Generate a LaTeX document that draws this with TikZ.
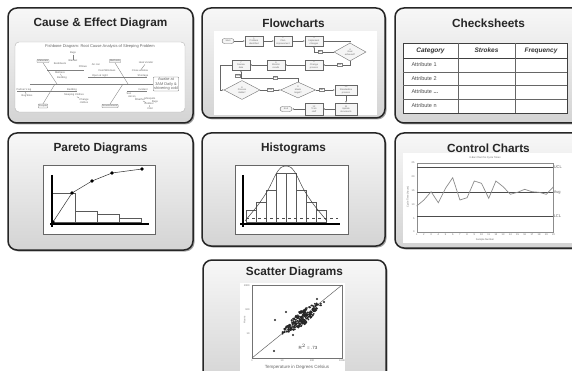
\documentclass[tikz,border=0pt]{standalone}
\usepackage{fontspec}
\setmainfont{Liberation Sans}
\usetikzlibrary{shapes.geometric,arrows.meta}

\tikzset{
  panel/.style={draw=black!85, line width=1.5pt, rounded corners=9pt, top color=black!3, bottom color=black!17},
  ptitle/.style={font=\fontsize{11.8}{13}\selectfont\bfseries, text=black!85},
  inset/.style={draw=black!60, fill=white, line width=.6pt},
  fbtxt/.style={font=\fontsize{2.6}{3}\selectfont, text=black!60, inner sep=.3pt, align=center},
  fbcat/.style={fbtxt, draw=black!45, fill=black!5, rounded corners=.8pt, inner sep=.8pt, line width=.3pt},
  fbline/.style={black!50, line width=.35pt},
  fc/.style={draw=black!60, fill=black!4, line width=.35pt, minimum width=18pt, minimum height=10.5pt, inner sep=.3pt, font=\fontsize{2.3}{2.6}\selectfont, text=black!60, align=center},
  fcd/.style={fc, diamond, aspect=1.8, minimum width=32pt, minimum height=18pt, inner sep=0pt},
  fct/.style={fc, rounded corners=2.5pt, minimum width=12pt, minimum height=5pt},
  fcl/.style={draw=black!50, fill=white, font=\fontsize{2.6}{3}\selectfont, text=black!70, inner sep=.5pt, line width=.3pt},
  fca/.style={black!60, line width=.4pt, -{Latex[length=1.6pt,width=1.3pt]}},
  csh/.style={font=\fontsize{6.5}{7}\selectfont\bfseries\itshape, text=black!80},
  csr/.style={font=\fontsize{5.5}{6}\selectfont, text=black!70, anchor=west},
  bar/.style={draw=black!65, line width=.45pt},
  axis/.style={black, line width=1.4pt},
  tk/.style={font=\fontsize{2.5}{3}\selectfont, text=black!60, inner sep=.3pt},
  cl/.style={font=\fontsize{4}{4.5}\selectfont, text=black!60, inner sep=.3pt, anchor=west},
  dot/.style={fill=black, radius=1.9}
}

\begin{document}
\begin{tikzpicture}[x=1pt,y=-1pt]
\useasboundingbox (0,0) rectangle (572,371);
\clip (0,0) rectangle (572,371);
\fill[white] (0,0) rectangle (572,371);

\foreach \xa/\ya/\xb/\yb/\ty/\ttl [count=\k] in {
  8/8/193/123/23/{Cause \& Effect Diagram},
  202/8/385/118/23/Flowcharts,
  395/8/582/123/23/Checksheets,
  8/133/193/250/148/{Pareto Diagrams},
  202/133/385/246/148/Histograms,
  395/133/582/248/148/{Control Charts},
  203/260/386/385/272/{Scatter Diagrams}}
{
  \fill[black!35, rounded corners=9pt] (\xa+1.5,\ya+1.5) rectangle (\xb+1.5,\yb+1.5);
  \draw[panel] (\xa,\ya) rectangle (\xb,\yb);
  \node[ptitle] (title\k) at ({(\xa+\xb)/2},\ty) {\ttl};
}

% cause and effect
\draw[black!30, fill=white, rounded corners=4pt, line width=.4pt] (15,42) rectangle (185,112);
\node[fbtxt, font=\fontsize{4}{4.5}\selectfont] (fbhead) at (100,46.5) {Fishbone Diagram: Root Cause Analysis of Sleeping Problem};
\node[fbcat] (materials) at (43,61) {Materials};
\node[fbcat] (methods) at (115,61) {Methods};
\node[fbcat] (people) at (43,106) {People};
\node[fbcat] (environment) at (110,106) {Environment};
\node[fbcat, font=\fontsize{3.9}{4.4}\selectfont, fill=white, draw=black!55] (effect) at (166,84) {Awake at\\3AM Daily \&\\shivering cold};
\coordinate (spine) at (30,84);
\draw[fbline, line width=.5pt] (spine) -- (effect.west);
\draw[fbline] (materials.south) -- (57,84);
\draw[fbline] (methods.south) -- (128,84);
\draw[fbline] (people.north) -- (55,84);
\draw[fbline] (environment.north) -- (123,84);
\draw[fbline] (47,70) -- (84,70);
\draw[fbline] (17,91) -- (77,91);
\draw[fbline] (88,77) -- (147,77);
\draw[fbline] (127,91) -- (147,91);
\node[fbtxt] (m1) at (73,53) {Bugs};
\node[fbtxt] (m2) at (73,61) {Blanket};
\node[fbtxt] (m3) at (60,63.5) {Bedsheets};
\node[fbtxt] (m4) at (83,66.5) {Pillows};
\node[fbtxt] (m5) at (60,72.5) {Mattress};
\node[fbtxt] (m6) at (62,77.5) {Bedding};
\draw[fbline] (m1) -- (m2);
\draw[fbline] (m5) -- (m6);
\node[fbtxt] (p1) at (24,89.5) {Partner's leg};
\node[fbtxt] (p2) at (27,96) {Bug bites};
\draw[fbline] (p1) -- (p2);
\node[fbtxt] (p3) at (72,89.5) {Bedding};
\node[fbtxt] (p4) at (74,95) {Sleeping Clothes};
\node[fbtxt] (p5) at (84,101) {Change\\clothes};
\draw[fbline] (p4) -- (p5);
\node[fbtxt] (e1) at (96,65) {Air con};
\node[fbtxt] (e2) at (107,70.5) {Door/Windows};
\node[fbtxt] (e3) at (100,75.5) {Open at night};
\node[fbtxt] (e4) at (146,63) {Heat Vendor};
\node[fbtxt] (e5) at (140,71) {Close window};
\node[fbtxt] (e6) at (143,75.5) {Shortage};
\draw[fbline] (e4) -- (e5);
\node[fbtxt] (v1) at (143,89.5) {Incident};
\node[fbtxt] (v2) at (129,93.5) {Sun};
\node[fbtxt] (v3) at (132,97) {Aircon};
\node[fbtxt] (v4) at (140,99.5) {Weather};
\node[fbtxt] (v5) at (150,98.5) {Mosquito};
\node[fbtxt] (v6) at (155,102) {Bugs};
\node[fbtxt] (v7) at (149,104) {Outdoor};
\node[fbtxt] (v8) at (150,108.5) {Cold};
\draw[fbline] (v3) -- (v4) -- (v7) -- (v8);
\draw[fbline] (v5) -- (v6);

% flowchart
\fill[white] (214,31) rectangle (377,115);
\node[fct] (start) at (228,41) {Start};
\node[fc] (b1) at (254,41) {1\\Problem\\identified};
\node[fc] (b2) at (283,41) {2\\Plan\\improvement};
\node[fc] (b3) at (314,41) {3\\Implement\\changes};
\node[fcd] (d1) at (350,52) {4\\Goal\\achieved?};
\node[fc] (b4) at (314,65) {5\\Change\\process};
\node[fc] (b5) at (276,65) {6\\Monitor\\results};
\node[fc] (b6) at (241,65) {7\\Review\\data};
\node[fcd, minimum width=36pt, minimum height=19pt] (d2) at (242,90) {8\\Process\\stable?};
\node[fcd, minimum width=35pt, minimum height=16pt] (d3) at (298,90) {9\\Meets\\target?};
\node[fc, minimum width=22pt] (b7) at (346,90) {10\\Standardize\\process};
\node[fc, minimum width=22pt, minimum height=12pt] (b8) at (346,109) {11\\Update\\documents};
\node[fc, minimum height=12pt] (b9) at (314,109) {12\\Train\\staff};
\node[fct] (end) at (286,109) {End};
\draw[fca] (start) -- (b1);
\draw[fca] (b1) -- (b2);
\draw[fca] (b2) -- (b3);
\draw[fca] (b3.east) -| (d1.north);
\draw[fca] (d1.west) -| node[fcl, pos=.35] {No} (b3.south);
\draw[fca] (d1.south) |- node[fcl, pos=.7] {Yes} (b4.east);
\draw[fca] (b4) -- (b5);
\draw[fca] (b5) -- (b6);
\draw[fca] (b6.west) -- ++(-12,0) |- (d2.west);
\draw[fca] (d3.north) |- node[fcl, pos=.7] {No} (241,78) -- (b6.south);
\node[fcl] (yes1) at (238,75.5) {Yes};
\draw[fca] (d2.east) -- node[fcl] {Yes} (d3.west);
\draw[fca] (d3.east) -- node[fcl, pos=.3] {Yes} (b7.west);
\draw[fca] (b7) -- (b8);
\draw[fca] (b8) -- (b9);
\draw[fca] (b9) -- (end);

% checksheet
\fill[white] (403,43) rectangle (567,113);
\draw[black!75, line width=.6pt] (403,43) rectangle (567,113);
\foreach \yy in {58,72,85,99} \draw[black!60, line width=.5pt] (403,\yy) -- (567,\yy);
\draw[black!75, line width=.6pt] (403,58) -- (567,58);
\foreach \xx in {458,515} \draw[black!60, line width=.5pt] (\xx,43) -- (\xx,113);
\node[csh] (cat) at (430.5,50.5) {Category};
\node[csh] (str) at (486.5,50.5) {Strokes};
\node[csh] (frq) at (541,50.5) {Frequency};
\node[csr] (a1) at (408,65) {Attribute 1};
\node[csr] (a2) at (408,78.5) {Attribute 2};
\node[csr] (a3) at (408,92) {Attribute \textbf{...}};
\node[csr] (a4) at (408,106) {Attribute n};

% pareto
\draw[inset] (43,165) rectangle (155,234);
\draw[bar] (52,193) rectangle (75,222);
\draw[bar] (75,211) rectangle (97,222);
\draw[bar] (97,214) rectangle (119,222);
\draw[bar] (119,218) rectangle (141,222);
\draw[black!80, line width=.5pt] (53,222) -- (72,193) -- (92,181) -- (112,173) -- (142,169);
\foreach \px/\py in {53/222,72/193,92/181,112/173,142/169} \fill[dot] (\px,\py) circle;
\draw[axis] (52,175) -- (52,227);
\draw[axis] (50,224) -- (149,224);

% histogram
\draw[inset] (235,165) rectangle (348,234);
\foreach \hx/\hy in {246/210,256/202,266/190,276/173,286/173,296/190,306/202,316/210}
  \draw[bar] (\hx,\hy) rectangle (\hx+10,222);
\draw[black!70, line width=.45pt, dashed] (246,218) -- (338,218);
\draw[black!75, line width=.5pt] plot[smooth] coordinates {(245,221) (258,205) (268,190) (276,174) (281,167.5) (286,166) (291,167.5) (296,174) (304,190) (314,205) (327,221)};
\draw[axis] (243,175) -- (243,227);
\draw[axis] (240,224) -- (340,224);

% control chart
\fill[white] (403,153) rectangle (582,243);
\draw[black!45, line width=.4pt] (417,163) rectangle (553,232);
\node[tk] (cctitle) at (485,158) {X-Bar Chart for Cycle Times};
\draw[black!70, line width=.9pt] (417,167.3) -- (553,167.3) node[cl] (ucl) {UCL};
\draw[black!70, line width=.9pt] (417,192.3) -- (553,192.3) node[cl] (avg) {Avg};
\draw[black!70, line width=.9pt] (417,216) -- (553,216) node[cl] (lcl) {LCL};
\draw[black!45, line width=.7pt] plot coordinates {(416.7,206) (423.9,200) (431.1,191.7) (438.3,202.7) (445.5,188.3) (452.7,177.7) (459.9,200) (467.1,197.7) (474.3,181) (481.5,183.3) (488.7,198.3) (495.9,181) (503.1,186.7) (510.3,194.3) (517.5,192.3) (524.7,189.3) (531.9,191.7) (539.1,192.3) (546.3,194.3) (553.5,186.7)};
\foreach \v [count=\j from 0] in {25,20,15,10,5,0}
  \node[tk, anchor=east] (cy\j) at (415,{163+13.8*\j}) {\v};
\foreach \j in {1,...,20}
  \node[tk] (cx\j) at ({409.5+7.2*\j},235) {\j};
\node[tk] (ccx) at (485,240) {Sample Number};
\node[tk, rotate=90] (ccy) at (408,197) {Cycle Time (hours)};

% scatter
\fill[white] (240,283) rectangle (345,380);
\draw[black!55, line width=.4pt] (252,285) rectangle (342,358);
\draw[black!60, line width=.5pt] (252,358) -- (342,285);
\pgfmathsetseed{11}
\foreach \i in {1,...,260}{
  \pgfmathsetmacro\tt{26*(rand+rand)/2}
  \pgfmathsetmacro\ss{7*rand*(1-abs(\tt)/34)}
  \fill[black!85] (302+0.777*\tt+0.629*\ss, 318-0.629*\tt+0.777*\ss) circle (1);
}
\foreach \ox/\oy in {275/320,274/351,317/299,324/302,293/335,286/312}
  \fill[black!85] (\ox,\oy) circle (1.1);
\node[font=\fontsize{4.5}{5}\selectfont, text=black!75] (rsq) at (308,347) {R$^2$ = .73};
\foreach \lx/\lv [count=\j] in {252/1,282/10,312/100,342/1000}
  \node[tk] (sx\j) at (\lx,361) {\lv};
\foreach \ly/\lv [count=\j] in {286/1000,309.5/100,334/10}
  \node[tk, anchor=east] (sy\j) at (250,\ly) {\lv};
\node[tk, rotate=90] (syl) at (244.5,320) {Hours};
\node[font=\fontsize{4.5}{5}\selectfont, text=black!60] (sxl) at (297,367) {Temperature in Degrees Celsius};
\end{tikzpicture}
\end{document}
